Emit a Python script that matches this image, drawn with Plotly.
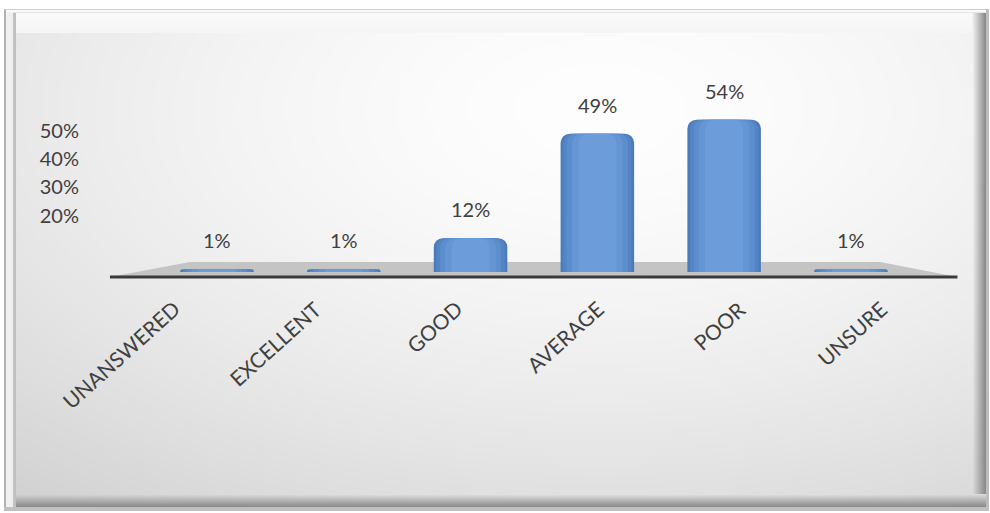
import base64
import struct
import zlib

import numpy as np
import plotly.graph_objects as go

# ---- data -------------------------------------------------------------
categories = ["UNANSWERED", "EXCELLENT", "GOOD", "AVERAGE", "POOR", "UNSURE"]
percent_values = [1, 1, 12, 49, 54, 1]
y_tick_values = [20, 30, 40, 50]
y_tick_labels = [f"{v}%" for v in y_tick_values]

# ---- canvas geometry --------------------------------------------------
W, H = 990, 513
M_LEFT, M_RIGHT, M_TOP, M_BOTTOM = 88, 30, 90, 221
PLOT_W = W - M_LEFT - M_RIGHT
PLOT_H = H - M_TOP - M_BOTTOM

FONT = "Lato, 'Open Sans', sans-serif"
TEXT_COLOR = "#404040"


def png_data_uri(rgb):
    """Encode an HxWx3 uint8 array as a PNG data URI."""
    h, w, _ = rgb.shape
    raw = b"".join(b"\x00" + rgb[r].tobytes() for r in range(h))

    def chunk(tag, data):
        c = struct.pack(">I", len(data)) + tag + data
        return c + struct.pack(">I", zlib.crc32(tag + data) & 0xFFFFFFFF)

    png = b"\x89PNG\r\n\x1a\n"
    png += chunk(b"IHDR", struct.pack(">IIBBBBB", w, h, 8, 2, 0, 0, 0))
    png += chunk(b"IDAT", zlib.compress(raw, 9))
    png += chunk(b"IEND", b"")
    return "data:image/png;base64," + base64.b64encode(png).decode()


def bevel_panel():
    """Grey bevelled panel with a soft radial highlight."""
    yy, xx = np.mgrid[0:H, 0:W].astype(float)
    d = np.sqrt(((xx - 600) / 720) ** 2 + ((yy - 110) / 390) ** 2)
    panel = 254 - 30 * np.clip(d, 0, 1.4) ** 1.6
    img = np.full((H, W), 255.0)

    x0, x1, y0, y1 = 4, 989, 9, 511
    img[y0:y1, x0:x1] = panel[y0:y1, x0:x1]

    # left rim
    img[y0:y1, 4:6] = 178
    img[y0:y1, 6:13] = 240
    img[y0:y1, 13:16] = 192
    # top rim (lit)
    img[9, 4:x1] = 205
    img[10:12, 6:x1] = 250
    img[12, 13:x1] = 228
    for i, yv in enumerate(range(13, 33)):
        img[yv, 16:975] = 250 - i * 0.25
    # right rim (shadow)
    for xv in range(972, 986):
        t = (xv - 972) / 13
        img[13:506, xv] = panel[13:506, xv] * (1 - t) + 138 * t
    img[y0:y1, 986:989] = 188
    # bottom rim (shadow)
    for yv in range(494, 507):
        t = (yv - 494) / 12
        img[yv, 16:986] = panel[yv, 16:986] * (1 - t) + 140 * t
    img[507:511, 4:989] = 192

    img = np.clip(img, 0, 255).astype(np.uint8)
    return np.repeat(img[:, :, None], 3, axis=2)


fig = go.Figure()

# cylinder-like shading: overlaid bar layers, darker rim to lighter core
shade_layers = [
    (0.58, "#4c7bbb"),
    (0.54, "#5484c4"),
    (0.48, "#5c8dcd"),
    (0.40, "#6495d4"),
    (0.30, "#6c9dda"),
]
for width, color in shade_layers:
    fig.add_trace(
        go.Bar(
            x=categories,
            y=percent_values,
            width=width,
            marker=dict(color=color, line=dict(width=0), cornerradius=9),
            hoverinfo="skip",
            showlegend=False,
        )
    )

# value labels above each bar
for cat, val in zip(categories, percent_values):
    fig.add_annotation(
        x=cat, y=val, text=f"{val}%", showarrow=False, yshift=29,
        font=dict(family=FONT, size=20, color=TEXT_COLOR),
    )

# slanted category labels, fanned out slightly for the perspective floor
for i, cat in enumerate(categories):
    fig.add_annotation(
        x=cat, y=0, text=cat, showarrow=False, textangle=-42,
        xanchor="right", yanchor="top",
        xshift=-30 + 14.6 * i, yshift=-21,
        font=dict(family=FONT, size=21, color=TEXT_COLOR),
    )

x_range = [-1.017, 5.86]
y_range = [-7.09, 64.54]

# perspective floor under the bars
floor_path = "M -0.844,-1.77 L -0.213,3.55 L 5.23,3.55 L 5.84,-1.77 Z"
fig.add_shape(type="path", path=floor_path, xref="x", yref="y",
              fillcolor="#c4c4c4", line=dict(width=0), layer="below")
fig.add_shape(type="line", x0=-0.844, x1=5.84, y0=-1.77, y1=-1.77,
              xref="x", yref="y", line=dict(color="#3a3a3a", width=3),
              layer="below")

fig.add_layout_image(
    source=png_data_uri(bevel_panel()),
    xref="paper", yref="paper",
    x=-M_LEFT / PLOT_W, y=1 + M_TOP / PLOT_H,
    sizex=W / PLOT_W, sizey=H / PLOT_H,
    xanchor="left", yanchor="top",
    sizing="stretch", layer="below",
)

fig.update_layout(
    width=W, height=H,
    margin=dict(l=M_LEFT, r=M_RIGHT, t=M_TOP, b=M_BOTTOM),
    barmode="overlay",
    paper_bgcolor="white",
    plot_bgcolor="rgba(0,0,0,0)",
    font=dict(family=FONT, size=20, color=TEXT_COLOR),
    xaxis=dict(
        range=x_range, showgrid=False, zeroline=False, showline=False,
        ticks="", showticklabels=False,
    ),
    yaxis=dict(
        range=y_range, tickvals=y_tick_values, ticktext=y_tick_labels,
        showgrid=False, zeroline=False, showline=False, ticks="",
        ticklabelstandoff=8,
        tickfont=dict(family=FONT, size=20, color=TEXT_COLOR),
    ),
)

fig.write_html("out.html")
